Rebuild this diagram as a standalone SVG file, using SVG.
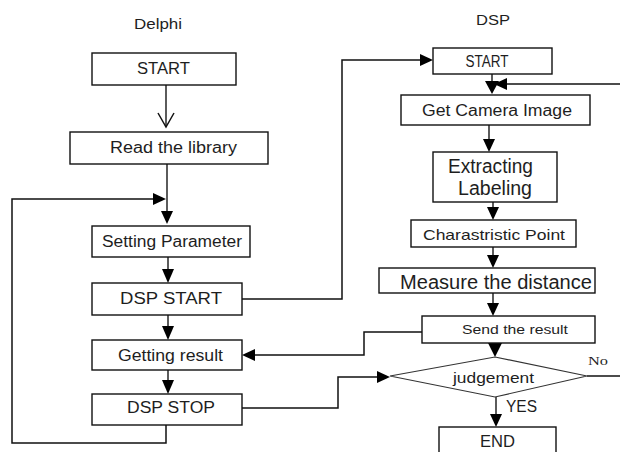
<svg xmlns="http://www.w3.org/2000/svg" width="620" height="452" viewBox="0 0 620 452">
<style>
.box{fill:#fff;stroke:#111;stroke-width:1.4}
.dia{fill:#fff;stroke:#333;stroke-width:1.1}
.t{font-family:"Liberation Sans",Arial,sans-serif;fill:#1e1e1e;text-anchor:middle}
.ts{font-family:"Liberation Sans",Arial,sans-serif;fill:#1e1e1e}
.c{fill:none;stroke:#111;stroke-width:1.5}
.cg{fill:none;stroke:#333;stroke-width:1.6}
.ah{fill:#000}
</style>
<rect width="620" height="452" fill="#fff"/>
<g id="titles">
<text class="t" x="158" y="29" font-size="14" textLength="48" lengthAdjust="spacingAndGlyphs">Delphi</text>
<text class="t" x="493" y="25" font-size="14" textLength="34" lengthAdjust="spacingAndGlyphs">DSP</text>
</g>
<g id="connectors">
<line class="cg" x1="166" y1="85" x2="166" y2="126"/>
<polyline class="c" points="158,113 166,127 174,113"/>
<line class="cg" x1="167" y1="164" x2="167" y2="214"/>
<polygon class="ah" points="161,211 173,211 167,224"/>
<path class="c" d="M166,425 V443 H12 V199 H155"/>
<polygon class="ah" points="153,193 153,205 166,199"/>
<line class="cg" x1="168" y1="257" x2="168" y2="271"/>
<polygon class="ah" points="162,269 174,269 168,283"/>
<line class="cg" x1="168" y1="315" x2="168" y2="328"/>
<polygon class="ah" points="162,326 174,326 168,340"/>
<line class="cg" x1="168" y1="370" x2="168" y2="382"/>
<polygon class="ah" points="162,380 174,380 168,394"/>
<path class="c" d="M242,299 H342 V60 H421"/>
<polygon class="ah" points="420,54 420,66 433,60"/>
<path class="c" d="M422,332 H364 V355 H254"/>
<polygon class="ah" points="255,349 255,361 242,355"/>
<path class="c" d="M242,408 H338 V377 H378"/>
<polygon class="ah" points="377,371 377,383 390,377"/>
<line class="cg" x1="492" y1="74" x2="492" y2="84"/>
<polygon class="ah" points="485,81 499,81 492,94"/>
<line class="c" x1="620" y1="84" x2="505" y2="84"/>
<polygon class="ah" points="507,78 507,90 494,84"/>
<line class="cg" x1="489" y1="125" x2="489" y2="141"/>
<polygon class="ah" points="483,139 495,139 489,152"/>
<line class="cg" x1="493" y1="202" x2="493" y2="209"/>
<polygon class="ah" points="487,207 499,207 493,220"/>
<line class="cg" x1="493" y1="247" x2="493" y2="257"/>
<polygon class="ah" points="487,255 499,255 493,268"/>
<line class="cg" x1="493" y1="293" x2="493" y2="305"/>
<polygon class="ah" points="487,303 499,303 493,316"/>
<polygon class="ah" points="488,343 502,343 495,357"/>
<line class="cg" x1="496" y1="397" x2="496" y2="416"/>
<polygon class="ah" points="490,414 502,414 496,427"/>
<line class="c" x1="587" y1="376" x2="620" y2="376"/>
</g>
<g id="n_start_l"><rect class="box" x="92" y="53" width="144" height="32"/><text class="t" x="163.5" y="74" font-size="16" textLength="53" lengthAdjust="spacingAndGlyphs">START</text></g>
<g id="n_read"><rect class="box" x="70" y="132" width="198" height="32"/><text class="t" x="173.5" y="153" font-size="16" textLength="127" lengthAdjust="spacingAndGlyphs">Read the library</text></g>
<g id="n_setting"><rect class="box" x="92" y="226" width="158" height="31"/><text class="t" x="172" y="247" font-size="16" textLength="140" lengthAdjust="spacingAndGlyphs">Setting Parameter</text></g>
<g id="n_dspstart"><rect class="box" x="92" y="283" width="150" height="32"/><text class="t" x="171" y="304" font-size="16" textLength="102" lengthAdjust="spacingAndGlyphs">DSP  START</text></g>
<g id="n_getting"><rect class="box" x="92" y="340" width="150" height="30"/><text class="t" x="170.5" y="361" font-size="16" textLength="105" lengthAdjust="spacingAndGlyphs">Getting result</text></g>
<g id="n_dspstop"><rect class="box" x="92" y="394" width="150" height="31"/><text class="t" x="171" y="413" font-size="16" textLength="88" lengthAdjust="spacingAndGlyphs">DSP STOP</text></g>
<g id="n_start_r"><rect class="box" x="433" y="48" width="119" height="26"/><text class="t" x="487" y="67" font-size="16" textLength="43" lengthAdjust="spacingAndGlyphs">START</text></g>
<g id="n_camera"><rect class="box" x="401" y="95" width="189" height="30"/><text class="t" x="497" y="116" font-size="16" textLength="150" lengthAdjust="spacingAndGlyphs">Get Camera Image</text></g>
<g id="n_extract"><rect class="box" x="433" y="152" width="124" height="50"/><text class="t" x="490.5" y="173" font-size="20" textLength="85" lengthAdjust="spacingAndGlyphs">Extracting</text><text class="t" x="495" y="195" font-size="20" textLength="74" lengthAdjust="spacingAndGlyphs">Labeling</text></g>
<g id="n_charas"><rect class="box" x="411" y="220" width="165" height="27"/><text class="t" x="494" y="240" font-size="15" textLength="142" lengthAdjust="spacingAndGlyphs">Charastristic Point</text></g>
<g id="n_measure"><rect class="box" x="379" y="268" width="216" height="25"/><text class="t" x="496" y="289" font-size="20" textLength="192" lengthAdjust="spacingAndGlyphs">Measure the distance</text></g>
<g id="n_send"><rect class="box" x="422" y="316" width="173" height="27"/><text class="t" x="515" y="334" font-size="12" textLength="106" lengthAdjust="spacingAndGlyphs">Send the result</text></g>
<g id="n_judge"><polygon class="dia" points="495,357 587,376 495,397 390,376"/><text class="t" x="493.5" y="383" font-size="15" textLength="81" lengthAdjust="spacingAndGlyphs">judgement</text><text class="ts" x="506" y="412" font-size="16" textLength="31" lengthAdjust="spacingAndGlyphs">YES</text><text x="588" y="365" font-family="'Liberation Serif','Times New Roman',serif" font-size="13" fill="#1e1e1e" textLength="20" lengthAdjust="spacingAndGlyphs">No</text></g>
<g id="n_end"><rect class="box" x="439" y="427" width="117" height="30"/><text class="t" x="497.5" y="447" font-size="16" textLength="35" lengthAdjust="spacingAndGlyphs">END</text></g>
</svg>
